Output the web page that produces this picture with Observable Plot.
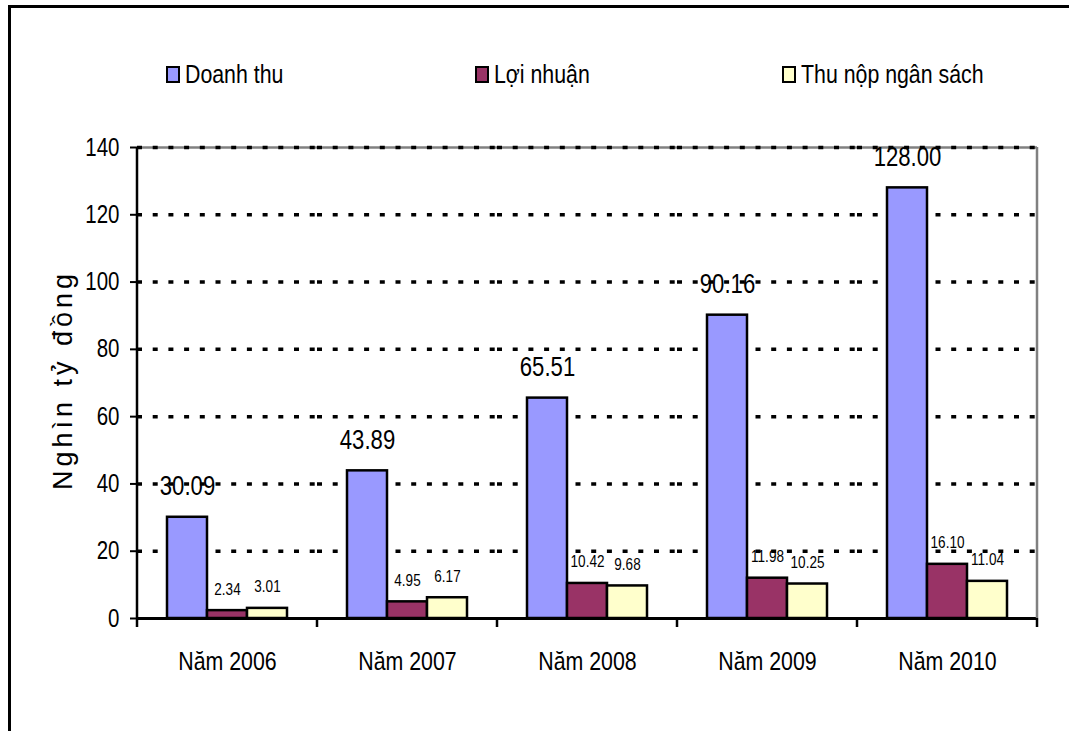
<!DOCTYPE html>
<html>
<head>
<meta charset="utf-8">
<script src="https://cdn.jsdelivr.net/npm/d3@7"></script>
<script src="https://cdn.jsdelivr.net/npm/@observablehq/plot@0.6"></script>
<style>
  html, body { margin: 0; padding: 0; background: white; overflow: hidden; }
  body { width: 1069px; height: 731px; position: relative; font-family: "Liberation Sans", Arial, sans-serif; }
  #chart { position: absolute; left: 0; top: 0; }
  #frame { position: absolute; left: 8px; top: 5px; width: 1200px; height: 900px; border: 3px solid #000; box-sizing: border-box; pointer-events: none; }
  .leg { position: absolute; top: 59px; display: flex; align-items: center; font-size: 26px; color: #000; white-space: nowrap; }
  .sw { width: 10px; height: 13px; border: 2px solid #000; margin-right: 5px; }
  .lt { display: inline-block; transform: scaleX(0.82); transform-origin: left center; }
  #ytitle { position: absolute; left: 63px; top: 380px; transform: translate(-50%, -50%) rotate(-90deg); font-size: 27px; letter-spacing: 4px; white-space: nowrap; color: #000; }
</style>
</head>
<body>
<div id="chart"></div>
<div id="frame"></div>
<div id="legend"></div>
<div id="ytitle">Nghìn tỷ đồng</div>
<script>
const years = ["Năm 2006", "Năm 2007", "Năm 2008", "Năm 2009", "Năm 2010"];
const series = ["Doanh thu", "Lợi nhuận", "Thu nộp ngân sách"];
const doanhThu = [30.09, 43.89, 65.51, 90.16, 128.00];
const loiNhuan = [2.34, 4.95, 10.42, 11.98, 16.10];
const thuNop = [3.01, 6.17, 9.68, 10.25, 11.04];
const colors = ["#9999FF", "#993366", "#FFFFCC"];
const yTicks = [0, 20, 40, 60, 80, 100, 120, 140];
const legendLeft = [166, 475, 782];

const seriesValues = [doanhThu, loiNhuan, thuNop];
const data = [];
years.forEach((yr, i) => series.forEach((s, j) => data.push({year: yr, series: s, value: seriesValues[j][i]})));

const FONT = "'Liberation Sans', Arial, sans-serif";

const chart = Plot.plot({
  width: 1069,
  height: 731,
  marginLeft: 137,
  marginRight: 32,
  marginTop: 147,
  marginBottom: 113,
  style: {fontFamily: FONT, fontSize: "25px", color: "#000", background: "transparent", overflow: "visible"},
  fx: {domain: years, padding: 0, axis: "bottom", tickSize: 0, tickPadding: 33, label: null},
  x: {domain: series, paddingInner: 0, paddingOuter: 0.75, axis: null},
  y: {domain: [0, 140], ticks: yTicks, tickSize: 7, tickPadding: 11, label: null},
  color: {domain: series, range: colors},
  marks: [
    Plot.ruleY([140], {stroke: "#808080", strokeWidth: 2.5}),
    Plot.ruleY(yTicks.filter(t => t > 0), {stroke: "#000", strokeWidth: 3.5, strokeDasharray: "5,10.7"}),
    Plot.barY(data, {fx: "year", x: "series", y: "value", fill: "series", stroke: "#000", strokeWidth: 2.5}),
    Plot.ruleY([0], {stroke: "#000", strokeWidth: 3}),
    Plot.text(data.filter(d => d.series === series[0]), {fx: "year", x: "series", y: "value", text: d => d.value.toFixed(2), lineAnchor: "bottom", dy: -22, fontSize: 27, fill: "#000"}),
    Plot.text(data.filter(d => d.series !== series[0]), {fx: "year", x: "series", y: "value", text: d => d.value.toFixed(2), lineAnchor: "bottom", dy: -16, fontSize: 16.5, fill: "#000"})
  ]
});
document.getElementById("chart").appendChild(chart);

// axis line, category boundary ticks and right border, positioned by the chart's own scales
const fx = chart.scale("fx"), y = chart.scale("y");
const svg = d3.select(chart);
const y0 = y.apply(0), yTop = y.apply(140);
const bounds = years.map(d => fx.apply(d));
bounds.push(fx.apply(years[years.length - 1]) + fx.bandwidth);
svg.append("line").attr("x1", bounds[bounds.length - 1]).attr("x2", bounds[bounds.length - 1]).attr("y1", yTop).attr("y2", y0).attr("stroke", "#808080").attr("stroke-width", 2.5);
svg.append("line").attr("x1", bounds[0]).attr("x2", bounds[0]).attr("y1", yTop).attr("y2", y0).attr("stroke", "#000").attr("stroke-width", 2.5);
bounds.forEach(b => svg.append("line").attr("x1", b).attr("x2", b).attr("y1", y0).attr("y2", y0 + 9).attr("stroke", "#000").attr("stroke-width", 2.5));
svg.selectAll("g[aria-label='y-axis tick'] path, g[aria-label='y-axis tick'] line").attr("stroke-width", 2);
svg.selectAll("g[aria-label='fx-axis tick label'] text").attr("font-size", 26);

// condensed (Arial Narrow-like) lettering: compress each text horizontally
svg.selectAll("text").each(function() {
  const w = this.getComputedTextLength();
  if (w > 0) {
    this.setAttribute("textLength", (w * 0.82).toFixed(1));
    this.setAttribute("lengthAdjust", "spacingAndGlyphs");
  }
});

// legend
const legend = document.getElementById("legend");
series.forEach((s, i) => {
  const item = document.createElement("div");
  item.className = "leg";
  item.style.left = legendLeft[i] + "px";
  const sw = document.createElement("div");
  sw.className = "sw";
  sw.style.background = colors[i];
  const t = document.createElement("span");
  t.className = "lt";
  t.textContent = s;
  item.appendChild(sw);
  item.appendChild(t);
  legend.appendChild(item);
});
</script>
</body>
</html>
